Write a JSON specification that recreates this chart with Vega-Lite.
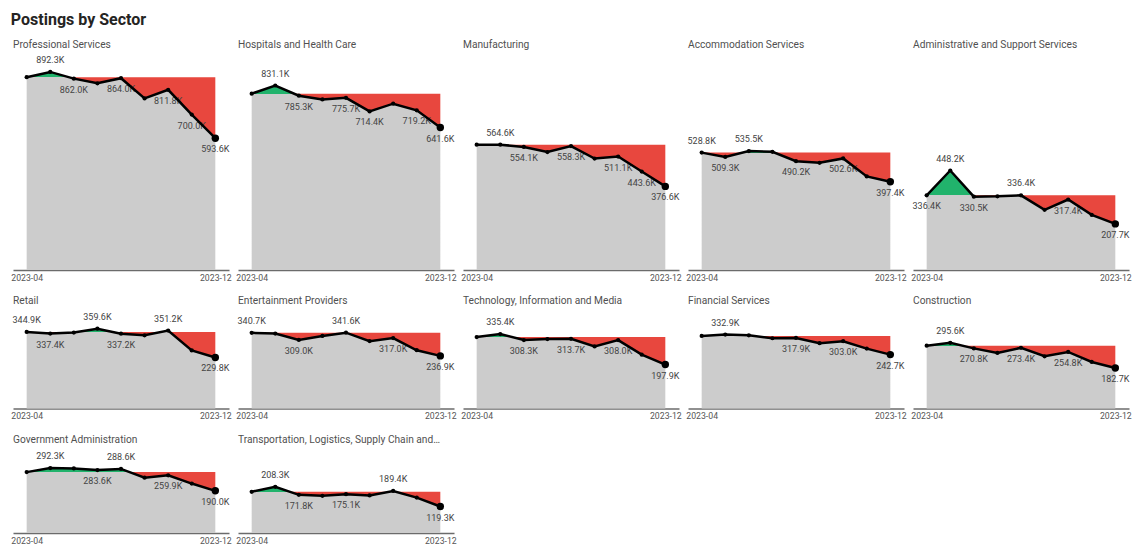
{
  "$schema": "https://vega.github.io/schema/vega-lite/v6.json",
  "background": "white",
  "padding": {"left": 10, "top": 11, "right": 4, "bottom": 4},
  "title": {
    "text": "Postings by Sector",
    "anchor": "start",
    "font": "Roboto",
    "fontSize": 16,
    "fontWeight": "bold",
    "color": "#252423",
    "offset": 12
  },
  "datasets": {
    "postings": [
      {"sector": "Professional Services", "month": "2023-04", "postings": 868.3},
      {"sector": "Professional Services", "month": "2023-05", "postings": 892.3},
      {"sector": "Professional Services", "month": "2023-06", "postings": 862.0},
      {"sector": "Professional Services", "month": "2023-07", "postings": 841.0},
      {"sector": "Professional Services", "month": "2023-08", "postings": 864.0},
      {"sector": "Professional Services", "month": "2023-09", "postings": 772.8},
      {"sector": "Professional Services", "month": "2023-10", "postings": 811.8},
      {"sector": "Professional Services", "month": "2023-11", "postings": 700.0},
      {"sector": "Professional Services", "month": "2023-12", "postings": 593.6},
      {"sector": "Hospitals and Health Care", "month": "2023-04", "postings": 794.3},
      {"sector": "Hospitals and Health Care", "month": "2023-05", "postings": 831.1},
      {"sector": "Hospitals and Health Care", "month": "2023-06", "postings": 785.3},
      {"sector": "Hospitals and Health Care", "month": "2023-07", "postings": 768.2},
      {"sector": "Hospitals and Health Care", "month": "2023-08", "postings": 775.7},
      {"sector": "Hospitals and Health Care", "month": "2023-09", "postings": 714.4},
      {"sector": "Hospitals and Health Care", "month": "2023-10", "postings": 749.2},
      {"sector": "Hospitals and Health Care", "month": "2023-11", "postings": 719.2},
      {"sector": "Hospitals and Health Care", "month": "2023-12", "postings": 641.6},
      {"sector": "Manufacturing", "month": "2023-04", "postings": 564.6},
      {"sector": "Manufacturing", "month": "2023-05", "postings": 564.6},
      {"sector": "Manufacturing", "month": "2023-06", "postings": 554.1},
      {"sector": "Manufacturing", "month": "2023-07", "postings": 531.3},
      {"sector": "Manufacturing", "month": "2023-08", "postings": 558.3},
      {"sector": "Manufacturing", "month": "2023-09", "postings": 502.1},
      {"sector": "Manufacturing", "month": "2023-10", "postings": 511.1},
      {"sector": "Manufacturing", "month": "2023-11", "postings": 443.6},
      {"sector": "Manufacturing", "month": "2023-12", "postings": 376.6},
      {"sector": "Accommodation Services", "month": "2023-04", "postings": 528.8},
      {"sector": "Accommodation Services", "month": "2023-05", "postings": 509.3},
      {"sector": "Accommodation Services", "month": "2023-06", "postings": 535.5},
      {"sector": "Accommodation Services", "month": "2023-07", "postings": 532.5},
      {"sector": "Accommodation Services", "month": "2023-08", "postings": 490.2},
      {"sector": "Accommodation Services", "month": "2023-09", "postings": 482.7},
      {"sector": "Accommodation Services", "month": "2023-10", "postings": 502.6},
      {"sector": "Accommodation Services", "month": "2023-11", "postings": 421.4},
      {"sector": "Accommodation Services", "month": "2023-12", "postings": 397.4},
      {"sector": "Administrative and Support Services", "month": "2023-04", "postings": 336.4},
      {"sector": "Administrative and Support Services", "month": "2023-05", "postings": 448.2},
      {"sector": "Administrative and Support Services", "month": "2023-06", "postings": 330.5},
      {"sector": "Administrative and Support Services", "month": "2023-07", "postings": 331.8},
      {"sector": "Administrative and Support Services", "month": "2023-08", "postings": 336.4},
      {"sector": "Administrative and Support Services", "month": "2023-09", "postings": 270.9},
      {"sector": "Administrative and Support Services", "month": "2023-10", "postings": 317.4},
      {"sector": "Administrative and Support Services", "month": "2023-11", "postings": 248.2},
      {"sector": "Administrative and Support Services", "month": "2023-12", "postings": 207.7},
      {"sector": "Retail", "month": "2023-04", "postings": 344.9},
      {"sector": "Retail", "month": "2023-05", "postings": 337.4},
      {"sector": "Retail", "month": "2023-06", "postings": 341.9},
      {"sector": "Retail", "month": "2023-07", "postings": 359.6},
      {"sector": "Retail", "month": "2023-08", "postings": 337.2},
      {"sector": "Retail", "month": "2023-09", "postings": 329.7},
      {"sector": "Retail", "month": "2023-10", "postings": 351.2},
      {"sector": "Retail", "month": "2023-11", "postings": 261.3},
      {"sector": "Retail", "month": "2023-12", "postings": 229.8},
      {"sector": "Entertainment Providers", "month": "2023-04", "postings": 340.7},
      {"sector": "Entertainment Providers", "month": "2023-05", "postings": 337.7},
      {"sector": "Entertainment Providers", "month": "2023-06", "postings": 309.0},
      {"sector": "Entertainment Providers", "month": "2023-07", "postings": 326.6},
      {"sector": "Entertainment Providers", "month": "2023-08", "postings": 341.6},
      {"sector": "Entertainment Providers", "month": "2023-09", "postings": 303.5},
      {"sector": "Entertainment Providers", "month": "2023-10", "postings": 317.0},
      {"sector": "Entertainment Providers", "month": "2023-11", "postings": 262.4},
      {"sector": "Entertainment Providers", "month": "2023-12", "postings": 236.9},
      {"sector": "Technology, Information and Media", "month": "2023-04", "postings": 322.0},
      {"sector": "Technology, Information and Media", "month": "2023-05", "postings": 335.4},
      {"sector": "Technology, Information and Media", "month": "2023-06", "postings": 308.3},
      {"sector": "Technology, Information and Media", "month": "2023-07", "postings": 313.0},
      {"sector": "Technology, Information and Media", "month": "2023-08", "postings": 313.7},
      {"sector": "Technology, Information and Media", "month": "2023-09", "postings": 279.5},
      {"sector": "Technology, Information and Media", "month": "2023-10", "postings": 308.0},
      {"sector": "Technology, Information and Media", "month": "2023-11", "postings": 242.5},
      {"sector": "Technology, Information and Media", "month": "2023-12", "postings": 197.9},
      {"sector": "Financial Services", "month": "2023-04", "postings": 326.9},
      {"sector": "Financial Services", "month": "2023-05", "postings": 332.9},
      {"sector": "Financial Services", "month": "2023-06", "postings": 329.9},
      {"sector": "Financial Services", "month": "2023-07", "postings": 316.4},
      {"sector": "Financial Services", "month": "2023-08", "postings": 317.9},
      {"sector": "Financial Services", "month": "2023-09", "postings": 294.0},
      {"sector": "Financial Services", "month": "2023-10", "postings": 303.0},
      {"sector": "Financial Services", "month": "2023-11", "postings": 269.7},
      {"sector": "Financial Services", "month": "2023-12", "postings": 242.7},
      {"sector": "Construction", "month": "2023-04", "postings": 283.0},
      {"sector": "Construction", "month": "2023-05", "postings": 295.6},
      {"sector": "Construction", "month": "2023-06", "postings": 270.8},
      {"sector": "Construction", "month": "2023-07", "postings": 250.0},
      {"sector": "Construction", "month": "2023-08", "postings": 273.4},
      {"sector": "Construction", "month": "2023-09", "postings": 235.3},
      {"sector": "Construction", "month": "2023-10", "postings": 254.8},
      {"sector": "Construction", "month": "2023-11", "postings": 209.7},
      {"sector": "Construction", "month": "2023-12", "postings": 182.7},
      {"sector": "Government Administration", "month": "2023-04", "postings": 274.3},
      {"sector": "Government Administration", "month": "2023-05", "postings": 292.3},
      {"sector": "Government Administration", "month": "2023-06", "postings": 290.8},
      {"sector": "Government Administration", "month": "2023-07", "postings": 283.6},
      {"sector": "Government Administration", "month": "2023-08", "postings": 288.6},
      {"sector": "Government Administration", "month": "2023-09", "postings": 249.4},
      {"sector": "Government Administration", "month": "2023-10", "postings": 259.9},
      {"sector": "Government Administration", "month": "2023-11", "postings": 222.7},
      {"sector": "Government Administration", "month": "2023-12", "postings": 190.0},
      {"sector": "Transportation, Logistics, Supply Chain and Storage", "month": "2023-04", "postings": 185.8},
      {"sector": "Transportation, Logistics, Supply Chain and Storage", "month": "2023-05", "postings": 208.3},
      {"sector": "Transportation, Logistics, Supply Chain and Storage", "month": "2023-06", "postings": 171.8},
      {"sector": "Transportation, Logistics, Supply Chain and Storage", "month": "2023-07", "postings": 167.3},
      {"sector": "Transportation, Logistics, Supply Chain and Storage", "month": "2023-08", "postings": 175.1},
      {"sector": "Transportation, Logistics, Supply Chain and Storage", "month": "2023-09", "postings": 169.1},
      {"sector": "Transportation, Logistics, Supply Chain and Storage", "month": "2023-10", "postings": 189.4},
      {"sector": "Transportation, Logistics, Supply Chain and Storage", "month": "2023-11", "postings": 159.6},
      {"sector": "Transportation, Logistics, Supply Chain and Storage", "month": "2023-12", "postings": 119.3}
    ]
  },
  "data": {"name": "postings"},
  "transform": [
    {"window": [{"op": "first_value", "field": "postings", "as": "base"}], "groupby": ["sector"], "sort": [{"field": "month"}], "frame": [null, null]},
    {"joinaggregate": [{"op": "max", "field": "postings", "as": "peak"}], "groupby": ["sector"]},
    {"calculate": "(datum.peak - datum.base) / datum.peak", "as": "split"},
    {"calculate": "format(datum.postings, '.1f') + 'K'", "as": "callout"},
    {"calculate": "datum.sector + '|' + datum.month", "as": "key"}
  ],
  "spacing": 13.5,
  "vconcat": [
    {
      "transform": [{"filter": {"field": "sector", "oneOf": ["Professional Services", "Hospitals and Health Care", "Manufacturing", "Accommodation Services", "Administrative and Support Services"]}}],
      "facet": {"column": {"field": "sector", "type": "nominal", "title": null, "sort": ["Professional Services", "Hospitals and Health Care", "Manufacturing", "Accommodation Services", "Administrative and Support Services"]}},
      "spacing": 9,
      "bounds": "flush",
      "spec": {
        "width": 216,
        "height": 214,
        "encoding": {"x": {"field": "month", "type": "ordinal", "scale": {"type": "point", "padding": 0.58}, "axis": {"values": ["2023-04", "2023-12"]}}},
        "layer": [
          {"mark": {"type": "area", "color": "#e8473e"}, "encoding": {"y": {"field": "base", "type": "quantitative", "scale": {"domain": [0, 964], "nice": false}, "axis": null}, "y2": {"field": "postings"}}},
          {"mark": {"type": "area"}, "encoding": {"y": {"field": "postings", "type": "quantitative", "scale": {"domain": [0, 964], "nice": false}, "axis": null}, "y2": {"datum": 0}, "fill": {"value": {"expr": "{gradient: 'linear', x1: 0, y1: 0, x2: 0, y2: 1, stops: [{offset: 0, color: '#21b36c'}, {offset: datum.split, color: '#21b36c'}, {offset: datum.split, color: '#cccccc'}, {offset: 1, color: '#cccccc'}]}"}}}},
          {"transform": [{"filter": {"field": "key", "oneOf": ["Professional Services|2023-05", "Hospitals and Health Care|2023-05", "Manufacturing|2023-05", "Accommodation Services|2023-04", "Accommodation Services|2023-06", "Administrative and Support Services|2023-05", "Administrative and Support Services|2023-08"]}}],
           "mark": {"type": "text", "dy": -12, "fontSize": 9, "color": "#444444"}, "encoding": {"y": {"field": "postings", "type": "quantitative", "scale": {"domain": [0, 964], "nice": false}, "axis": null}, "text": {"field": "callout"}}},
          {"transform": [{"filter": {"field": "key", "oneOf": ["Professional Services|2023-06", "Professional Services|2023-08", "Professional Services|2023-10", "Professional Services|2023-11", "Professional Services|2023-12", "Hospitals and Health Care|2023-06", "Hospitals and Health Care|2023-08", "Hospitals and Health Care|2023-09", "Hospitals and Health Care|2023-11", "Hospitals and Health Care|2023-12", "Manufacturing|2023-06", "Manufacturing|2023-08", "Manufacturing|2023-10", "Manufacturing|2023-11", "Manufacturing|2023-12", "Accommodation Services|2023-05", "Accommodation Services|2023-08", "Accommodation Services|2023-10", "Accommodation Services|2023-12", "Administrative and Support Services|2023-04", "Administrative and Support Services|2023-06", "Administrative and Support Services|2023-10", "Administrative and Support Services|2023-12"]}}],
           "mark": {"type": "text", "dy": 11, "fontSize": 9, "color": "#444444"}, "encoding": {"y": {"field": "postings", "type": "quantitative", "scale": {"domain": [0, 964], "nice": false}, "axis": null}, "text": {"field": "callout"}}},
          {"mark": {"type": "line", "color": "#000000", "strokeWidth": 2.5}, "encoding": {"y": {"field": "postings", "type": "quantitative", "scale": {"domain": [0, 964], "nice": false}, "axis": null}}},
          {"mark": {"type": "point", "filled": true, "color": "#000000", "opacity": 1}, "encoding": {"y": {"field": "postings", "type": "quantitative", "scale": {"domain": [0, 964], "nice": false}, "axis": null}, "size": {"condition": {"test": "datum.month === '2023-12'", "value": 55}, "value": 18}}}
        ]
      }
    },
    {
      "transform": [{"filter": {"field": "sector", "oneOf": ["Retail", "Entertainment Providers", "Technology, Information and Media", "Financial Services", "Construction"]}}],
      "facet": {"column": {"field": "sector", "type": "nominal", "title": null, "sort": ["Retail", "Entertainment Providers", "Technology, Information and Media", "Financial Services", "Construction"]}},
      "spacing": 9,
      "bounds": "flush",
      "spec": {
        "width": 216,
        "height": 96,
        "encoding": {"x": {"field": "month", "type": "ordinal", "scale": {"type": "point", "padding": 0.58}, "axis": {"values": ["2023-04", "2023-12"]}}},
        "layer": [
          {"mark": {"type": "area", "color": "#e8473e"}, "encoding": {"y": {"field": "base", "type": "quantitative", "scale": {"domain": [0, 432.4], "nice": false}, "axis": null}, "y2": {"field": "postings"}}},
          {"mark": {"type": "area"}, "encoding": {"y": {"field": "postings", "type": "quantitative", "scale": {"domain": [0, 432.4], "nice": false}, "axis": null}, "y2": {"datum": 0}, "fill": {"value": {"expr": "{gradient: 'linear', x1: 0, y1: 0, x2: 0, y2: 1, stops: [{offset: 0, color: '#21b36c'}, {offset: datum.split, color: '#21b36c'}, {offset: datum.split, color: '#cccccc'}, {offset: 1, color: '#cccccc'}]}"}}}},
          {"transform": [{"filter": {"field": "key", "oneOf": ["Retail|2023-04", "Retail|2023-07", "Retail|2023-10", "Entertainment Providers|2023-04", "Entertainment Providers|2023-08", "Technology, Information and Media|2023-05", "Financial Services|2023-05", "Construction|2023-05"]}}],
           "mark": {"type": "text", "dy": -12, "fontSize": 9, "color": "#444444"}, "encoding": {"y": {"field": "postings", "type": "quantitative", "scale": {"domain": [0, 432.4], "nice": false}, "axis": null}, "text": {"field": "callout"}}},
          {"transform": [{"filter": {"field": "key", "oneOf": ["Retail|2023-05", "Retail|2023-08", "Retail|2023-12", "Entertainment Providers|2023-06", "Entertainment Providers|2023-10", "Entertainment Providers|2023-12", "Technology, Information and Media|2023-06", "Technology, Information and Media|2023-08", "Technology, Information and Media|2023-10", "Technology, Information and Media|2023-12", "Financial Services|2023-08", "Financial Services|2023-10", "Financial Services|2023-12", "Construction|2023-06", "Construction|2023-08", "Construction|2023-10", "Construction|2023-12"]}}],
           "mark": {"type": "text", "dy": 11, "fontSize": 9, "color": "#444444"}, "encoding": {"y": {"field": "postings", "type": "quantitative", "scale": {"domain": [0, 432.4], "nice": false}, "axis": null}, "text": {"field": "callout"}}},
          {"mark": {"type": "line", "color": "#000000", "strokeWidth": 2.5}, "encoding": {"y": {"field": "postings", "type": "quantitative", "scale": {"domain": [0, 432.4], "nice": false}, "axis": null}}},
          {"mark": {"type": "point", "filled": true, "color": "#000000", "opacity": 1}, "encoding": {"y": {"field": "postings", "type": "quantitative", "scale": {"domain": [0, 432.4], "nice": false}, "axis": null}, "size": {"condition": {"test": "datum.month === '2023-12'", "value": 55}, "value": 18}}}
        ]
      }
    },
    {
      "transform": [{"filter": {"field": "sector", "oneOf": ["Government Administration", "Transportation, Logistics, Supply Chain and Storage"]}}],
      "facet": {"column": {"field": "sector", "type": "nominal", "title": null, "sort": ["Government Administration", "Transportation, Logistics, Supply Chain and Storage"]}},
      "spacing": 9,
      "bounds": "flush",
      "spec": {
        "width": 216,
        "height": 82,
        "encoding": {"x": {"field": "month", "type": "ordinal", "scale": {"type": "point", "padding": 0.58}, "axis": {"values": ["2023-04", "2023-12"]}}},
        "layer": [
          {"mark": {"type": "area", "color": "#e8473e"}, "encoding": {"y": {"field": "base", "type": "quantitative", "scale": {"domain": [0, 369.4], "nice": false}, "axis": null}, "y2": {"field": "postings"}}},
          {"mark": {"type": "area"}, "encoding": {"y": {"field": "postings", "type": "quantitative", "scale": {"domain": [0, 369.4], "nice": false}, "axis": null}, "y2": {"datum": 0}, "fill": {"value": {"expr": "{gradient: 'linear', x1: 0, y1: 0, x2: 0, y2: 1, stops: [{offset: 0, color: '#21b36c'}, {offset: datum.split, color: '#21b36c'}, {offset: datum.split, color: '#cccccc'}, {offset: 1, color: '#cccccc'}]}"}}}},
          {"transform": [{"filter": {"field": "key", "oneOf": ["Government Administration|2023-05", "Government Administration|2023-08", "Transportation, Logistics, Supply Chain and Storage|2023-05", "Transportation, Logistics, Supply Chain and Storage|2023-10"]}}],
           "mark": {"type": "text", "dy": -12, "fontSize": 9, "color": "#444444"}, "encoding": {"y": {"field": "postings", "type": "quantitative", "scale": {"domain": [0, 369.4], "nice": false}, "axis": null}, "text": {"field": "callout"}}},
          {"transform": [{"filter": {"field": "key", "oneOf": ["Government Administration|2023-07", "Government Administration|2023-10", "Government Administration|2023-12", "Transportation, Logistics, Supply Chain and Storage|2023-06", "Transportation, Logistics, Supply Chain and Storage|2023-08", "Transportation, Logistics, Supply Chain and Storage|2023-12"]}}],
           "mark": {"type": "text", "dy": 11, "fontSize": 9, "color": "#444444"}, "encoding": {"y": {"field": "postings", "type": "quantitative", "scale": {"domain": [0, 369.4], "nice": false}, "axis": null}, "text": {"field": "callout"}}},
          {"mark": {"type": "line", "color": "#000000", "strokeWidth": 2.5}, "encoding": {"y": {"field": "postings", "type": "quantitative", "scale": {"domain": [0, 369.4], "nice": false}, "axis": null}}},
          {"mark": {"type": "point", "filled": true, "color": "#000000", "opacity": 1}, "encoding": {"y": {"field": "postings", "type": "quantitative", "scale": {"domain": [0, 369.4], "nice": false}, "axis": null}, "size": {"condition": {"test": "datum.month === '2023-12'", "value": 55}, "value": 18}}}
        ]
      }
    }
  ],
  "config": {
    "font": "Roboto",
    "view": {"stroke": null},
    "axisX": {
      "title": null,
      "ticks": false,
      "grid": false,
      "labelAngle": 0,
      "labelFontSize": 8.7,
      "labelColor": "#555555",
      "labelPadding": 3,
      "domainColor": "#6b6b6b",
      "domainWidth": 1.5
    },
    "header": {
      "labelOrient": "top",
      "labelAnchor": "start",
      "labelAlign": "left",
      "labelFontSize": 10.2,
      "labelColor": "#505050",
      "labelPadding": 6,
      "labelLimit": 204
    }
  }
}
